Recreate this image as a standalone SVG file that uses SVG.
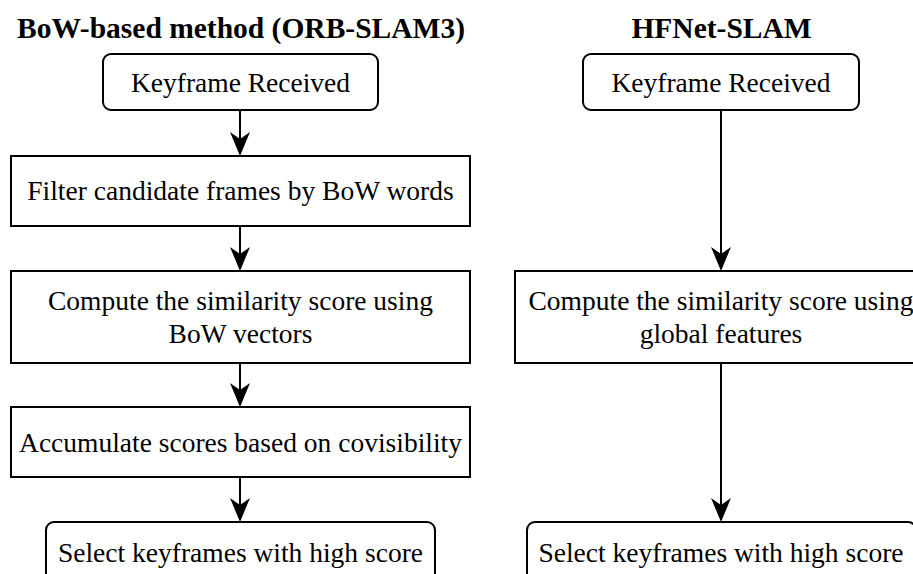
<svg xmlns="http://www.w3.org/2000/svg" width="913" height="574" viewBox="0 0 913 574">
<style>
.box{fill:#fff;stroke:#000;stroke-width:2}
.t{font-family:"Liberation Serif","Times New Roman",serif;font-size:27.5px;fill:#000;text-anchor:middle}
.h{font-family:"Liberation Serif","Times New Roman",serif;font-size:29.5px;font-weight:bold;fill:#000;text-anchor:middle}
.c{fill:none;stroke:#000;stroke-width:2}
</style>
<defs>
<marker id="arr" markerUnits="userSpaceOnUse" markerWidth="24" markerHeight="20" viewBox="0 0 24 20" refX="7" refY="10" orient="auto">
<path d="M0,0 L24,10 L0,20 L7,10 Z" fill="#000"/>
</marker>
</defs>
<rect width="913" height="574" fill="#fff"/>
<text class="h" x="241" y="38">BoW-based method (ORB-SLAM3)</text>
<text class="h" x="721.5" y="38">HFNet-SLAM</text>
<g id="L1"><rect class="box" x="103" y="54" width="275" height="56" rx="8"/><text class="t" x="240.5" y="92">Keyframe Received</text></g>
<g id="L2"><rect class="box" x="11" y="156" width="459" height="70"/><text class="t" x="240.5" y="200">Filter candidate frames by BoW words</text></g>
<g id="L3"><rect class="box" x="11" y="271" width="459" height="92"/><text class="t" x="240.5" y="310">Compute the similarity score using</text><text class="t" x="240.5" y="343">BoW vectors</text></g>
<g id="L4"><rect class="box" x="11" y="407" width="459" height="70"/><text class="t" x="240.5" y="452">Accumulate scores based on covisibility</text></g>
<g id="L5"><rect class="box" x="46" y="522" width="389" height="72" rx="8"/><text class="t" x="240.5" y="562">Select keyframes with high score</text></g>
<g id="R1"><rect class="box" x="583" y="54" width="276" height="56" rx="8"/><text class="t" x="721" y="92">Keyframe Received</text></g>
<g id="R2"><rect class="box" x="515" y="271" width="412" height="92"/><text class="t" x="721" y="310">Compute the similarity score using</text><text class="t" x="721" y="343">global features</text></g>
<g id="R3"><rect class="box" x="527" y="522" width="389" height="72" rx="8"/><text class="t" x="721" y="562">Select keyframes with high score</text></g>
<g id="connectors">
<line class="c" x1="240" y1="110" x2="240" y2="139" marker-end="url(#arr)"/>
<line class="c" x1="240" y1="226" x2="240" y2="254" marker-end="url(#arr)"/>
<line class="c" x1="240" y1="363" x2="240" y2="390" marker-end="url(#arr)"/>
<line class="c" x1="240" y1="477" x2="240" y2="505" marker-end="url(#arr)"/>
<line class="c" x1="721" y1="110" x2="721" y2="254" marker-end="url(#arr)"/>
<line class="c" x1="721" y1="363" x2="721" y2="505" marker-end="url(#arr)"/>
</g>
</svg>
